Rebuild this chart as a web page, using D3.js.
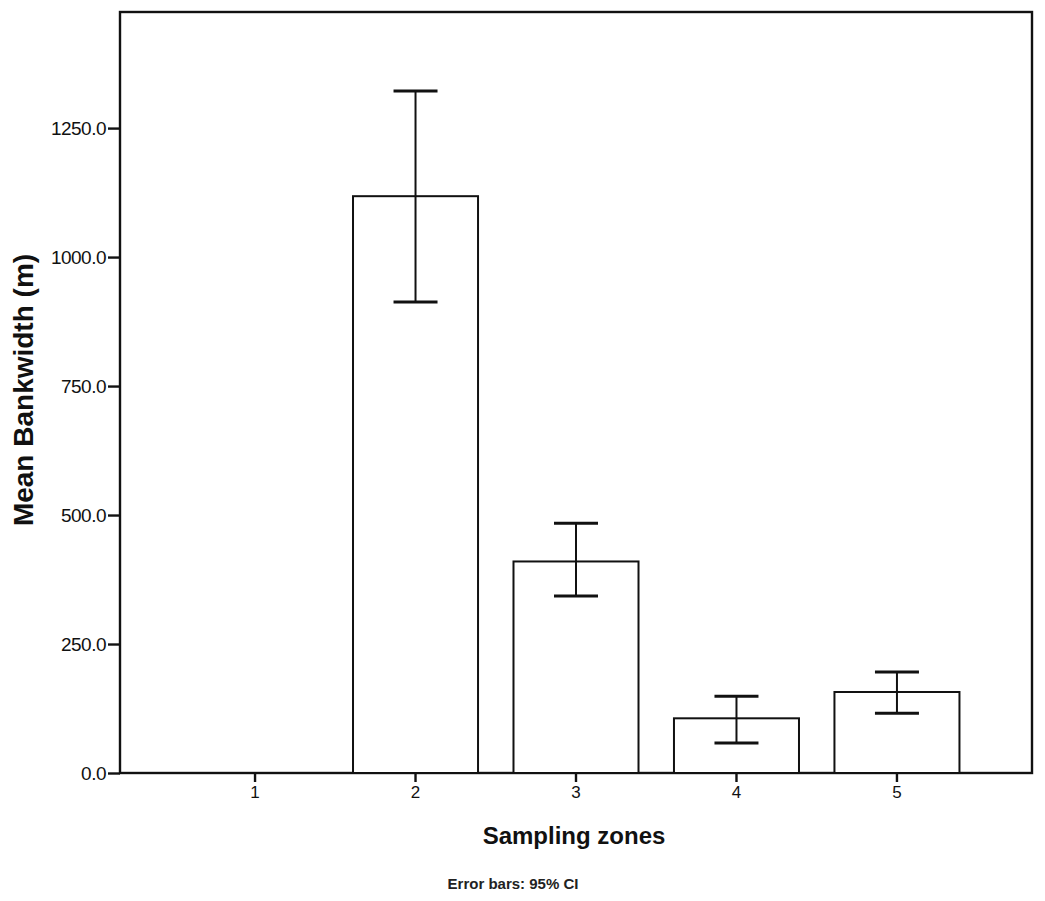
<!DOCTYPE html>
<html><head><meta charset="utf-8">
<script src="https://cdn.jsdelivr.net/npm/d3@7/dist/d3.min.js"></script>
<style>body{margin:0;background:#fff}</style>
</head><body>
<svg id="c" width="1045" height="901"></svg>
<script>
const categories = ["1","2","3","4","5"];
const means = [null, 1118, 410, 106, 157];
const ciLow = [null, 913, 343, 58, 116];
const ciHigh = [null, 1322, 484, 149, 196];
const yTicks = [0, 250, 500, 750, 1000, 1250];

const svg = d3.select("#c");
const L = 120, R = 1032, T = 12, B = 773;
const x = d3.scaleBand().domain(categories).range([L, R]).paddingInner(0.221).paddingOuter(0.452);
const y = d3.scaleLinear().domain([0, 1475]).range([B, T]);

// frame
svg.append("rect").attr("x", L).attr("y", T).attr("width", R - L).attr("height", B - T)
  .attr("fill", "#fff").attr("stroke", "#111").attr("stroke-width", 2.4);

const data = categories.map((c, i) => ({c, m: means[i], lo: ciLow[i], hi: ciHigh[i]})).filter(d => d.m != null);

// bars
svg.append("g").selectAll("rect").data(data).join("rect")
  .attr("x", d => x(d.c)).attr("y", d => y(d.m))
  .attr("width", x.bandwidth()).attr("height", d => y(0) - y(d.m))
  .attr("fill", "#fff").attr("stroke", "#111").attr("stroke-width", 2);

// error bars
const eb = svg.append("g").attr("stroke", "#111").attr("stroke-width", 3);
const cx = d => x(d.c) + x.bandwidth() / 2;
eb.selectAll("line.v").data(data).join("line").attr("class", "v")
  .attr("x1", cx).attr("x2", cx).attr("y1", d => y(d.lo)).attr("y2", d => y(d.hi)).attr("stroke-width", 2);
["lo", "hi"].forEach(k => {
  eb.selectAll("line." + k).data(data).join("line").attr("class", k)
    .attr("x1", d => cx(d) - 22).attr("x2", d => cx(d) + 22)
    .attr("y1", d => y(d[k])).attr("y2", d => y(d[k]));
});

const FF = "Liberation Sans, Arial, sans-serif";
// y axis
const yAxis = d3.axisLeft(y).tickValues(yTicks).tickFormat(d3.format(".1f")).tickSize(12).tickPadding(2);
const gy = svg.append("g").attr("transform", `translate(${L},0)`).call(yAxis);
gy.select(".domain").remove();
gy.selectAll("line").attr("stroke", "#111").attr("stroke-width", 2.4);
gy.selectAll("text").attr("font-family", FF).attr("font-size", 19).attr("fill", "#111")
  .attr("letter-spacing", "-0.5");

// x axis
const xAxis = d3.axisBottom(x).tickSize(9).tickPadding(4);
const gx = svg.append("g").attr("transform", `translate(0,${B})`).call(xAxis);
gx.select(".domain").remove();
gx.selectAll("line").attr("stroke", "#111").attr("stroke-width", 2.4);
gx.selectAll("text").attr("font-family", FF).attr("font-size", 17).attr("fill", "#111");

// titles
svg.append("text").attr("transform", `translate(33,390) rotate(-90)`)
  .attr("text-anchor", "middle").attr("font-family", FF)
  .attr("font-weight", "bold").attr("font-size", 28).attr("fill", "#111").text("Mean Bankwidth (m)");
svg.append("text").attr("x", 574).attr("y", 844).attr("text-anchor", "middle")
  .attr("font-family", FF).attr("font-weight", "bold")
  .attr("font-size", 24).attr("fill", "#111").text("Sampling zones");
svg.append("text").attr("x", 513).attr("y", 889).attr("text-anchor", "middle")
  .attr("font-family", "Liberation Sans Narrow, Arial Narrow, sans-serif").attr("font-weight", "bold")
  .attr("font-size", 15).attr("fill", "#222").text("Error bars: 95% CI");
</script>
</body></html>
